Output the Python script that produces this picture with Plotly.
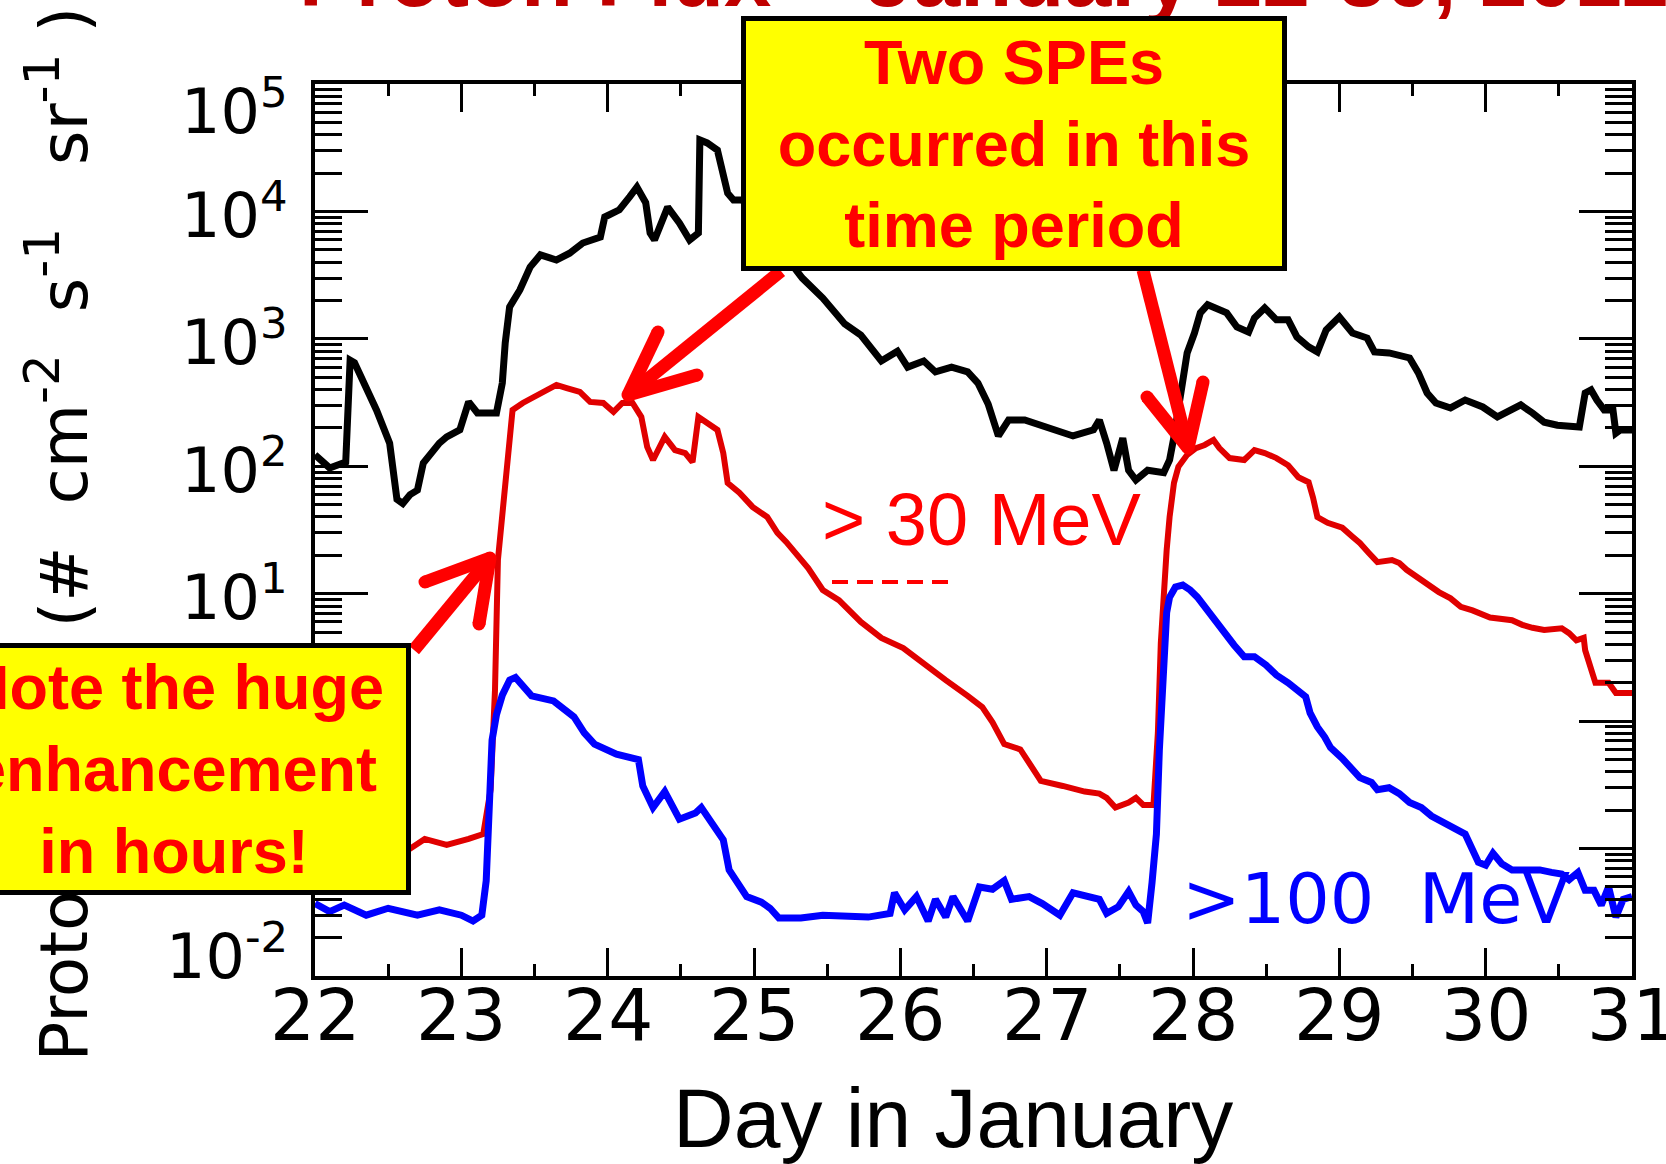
import math
import plotly.graph_objects as go

# ---- data: proton flux (# cm^-2 s^-1 sr^-1) vs day in January ----
black_day = [22.00, 22.10, 22.21, 22.24, 22.27, 22.32, 22.42, 22.51, 22.56, 22.60, 22.65, 22.70, 22.74, 22.85, 22.90,
             22.99, 23.05, 23.11, 23.24, 23.28, 23.30, 23.33, 23.40, 23.47, 23.54, 23.65, 23.74, 23.83, 23.95, 23.98,
             24.08, 24.15, 24.20, 24.26, 24.29, 24.32, 24.41, 24.49, 24.56, 24.62, 24.63, 24.68, 24.75, 24.82, 24.86,
             24.92, 25.11, 25.33, 25.47, 25.62, 25.73, 25.87, 25.98, 26.05, 26.16, 26.24, 26.35, 26.46, 26.53, 26.60,
             26.67, 26.74, 26.85, 27.04, 27.18, 27.32, 27.36, 27.41, 27.46, 27.52, 27.56, 27.61, 27.69, 27.80, 27.84,
             27.87, 27.92, 27.96, 28.01, 28.05, 28.10, 28.23, 28.30, 28.38, 28.42, 28.49, 28.57, 28.65, 28.71, 28.79,
             28.85, 28.91, 29.00, 29.09, 29.19, 29.24, 29.34, 29.48, 29.54, 29.60, 29.66, 29.76, 29.86, 29.98, 30.08,
             30.18, 30.24, 30.32, 30.40, 30.49, 30.64, 30.68, 30.72, 30.76, 30.81, 30.87, 30.89, 30.92, 31.00]
black_flux = [123, 97, 108, 680, 650, 490, 277, 152, 55, 51, 60, 65, 106, 152, 170,
              193, 320, 262, 262, 450, 930, 1780, 2420, 3660, 4560, 4160, 4700, 5650, 6300, 9040,
              10300, 13000, 15500, 11700, 6770, 5970, 10800, 8110, 5970, 6770, 36400, 34500, 30300, 13900, 12300,
              12300, 6530, 3000, 2090, 1310, 1070, 670, 800, 600, 670, 550, 600, 550, 450, 308,
              173, 231, 231, 193, 173, 193, 231, 152, 93, 166, 93, 78, 93, 89, 112,
              170, 376, 775, 1110, 1600, 1850, 1600, 1240, 1130, 1460, 1750, 1410, 1410, 1035, 865,
              790, 1175, 1485, 1110, 1015, 790, 775, 708, 540, 376, 314, 287, 331, 292, 244,
              277, 303, 262, 222, 210, 203, 376, 397, 331, 277, 277, 182, 193, 193]

red_day = [22.00, 22.30, 22.60, 22.64, 22.75, 22.90, 23.05, 23.15, 23.20, 23.23, 23.25, 23.28, 23.31, 23.33, 23.35,
           23.42, 23.49, 23.59, 23.65, 23.72, 23.81, 23.88, 23.97, 24.04, 24.10, 24.17, 24.23, 24.27, 24.31, 24.39,
           24.46, 24.53, 24.58, 24.62, 24.68, 24.75, 24.79, 24.82, 24.90, 24.99, 25.09, 25.16, 25.22, 25.37, 25.47,
           25.58, 25.73, 25.87, 26.02, 26.16, 26.31, 26.46, 26.56, 26.63, 26.71, 26.82, 26.89, 26.96, 27.11, 27.26,
           27.36, 27.41, 27.47, 27.56, 27.61, 27.66, 27.73, 27.76, 27.78, 27.80, 27.82, 27.84, 27.87, 27.90, 27.96,
           28.02, 28.08, 28.14, 28.18, 28.25, 28.35, 28.42, 28.49, 28.57, 28.65, 28.72, 28.79, 28.82, 28.85, 28.92,
           29.02, 29.09, 29.14, 29.20, 29.26, 29.36, 29.41, 29.46, 29.54, 29.61, 29.68, 29.76, 29.83, 29.91, 29.98,
           30.03, 30.18, 30.25, 30.32, 30.40, 30.52, 30.57, 30.62, 30.67, 30.68, 30.70, 30.72, 30.75, 30.84, 30.89,
           31.00]
red_flux = [0.098, 0.107, 0.094, 0.098, 0.119, 0.107, 0.119, 0.130, 0.29, 1.75, 18.4, 43, 93, 203, 277,
            314, 350, 397, 435, 411, 383, 320, 314, 267, 314, 314, 244, 142, 112, 170,
            134, 127, 108, 244, 219, 193, 127, 74, 62, 48, 40, 30, 25.5, 15.9, 10.7,
            8.9, 6.0, 4.5, 3.75, 2.8, 2.1, 1.58, 1.29, 0.98, 0.66, 0.60, 0.45, 0.34, 0.31, 0.28,
            0.27, 0.25, 0.21, 0.23, 0.25, 0.22, 0.22, 0.81, 4.1, 11.3, 22, 40, 74, 99, 123,
            139, 147, 161, 139, 116, 112, 134, 127, 116, 102, 82, 75, 57, 40, 36,
            33, 28, 25, 21, 17.7, 18.4, 17.4, 15.4, 13.3, 11.7, 10.3, 9.2, 7.9, 7.4, 6.8,
            6.5, 6.2, 5.7, 5.4, 5.2, 5.35, 4.9, 4.3, 4.5, 3.6, 3.0, 2.4, 2.0, 2.0, 1.66,
            1.66]

blue_day = [22.00, 22.10, 22.20, 22.35, 22.50, 22.70, 22.85, 23.00, 23.08, 23.14, 23.17, 23.19, 23.21, 23.24, 23.28,
            23.33, 23.37, 23.48, 23.63, 23.77, 23.84, 23.91, 24.06, 24.21, 24.24, 24.31, 24.39, 24.49, 24.60, 24.64,
            24.71, 24.79, 24.83, 24.89, 24.95, 25.05, 25.11, 25.17, 25.32, 25.47, 25.78, 25.93, 25.96, 26.03, 26.11,
            26.19, 26.24, 26.31, 26.36, 26.46, 26.54, 26.63, 26.71, 26.76, 26.88, 26.97, 27.09, 27.18, 27.30, 27.36,
            27.41, 27.49, 27.56, 27.61, 27.66, 27.69, 27.72, 27.75, 27.77, 27.80, 27.82, 27.84, 27.88, 27.93, 27.98,
            28.03, 28.08, 28.13, 28.21, 28.28, 28.35, 28.42, 28.50, 28.57, 28.65, 28.72, 28.77, 28.80, 28.85, 28.90,
            28.94, 29.02, 29.09, 29.14, 29.22, 29.26, 29.34, 29.41, 29.48, 29.56, 29.63, 29.71, 29.78, 29.86, 29.91,
            29.95, 30.00, 30.05, 30.11, 30.18, 30.25, 30.37, 30.45, 30.52, 30.57, 30.63, 30.68, 30.74, 30.79, 30.84,
            30.89, 30.94, 31.00]
blue_flux = [0.037, 0.032, 0.036, 0.030, 0.034, 0.030, 0.033, 0.030, 0.027, 0.030, 0.056, 0.24, 0.71, 1.12, 1.6,
             2.1, 2.2, 1.58, 1.44, 1.08, 0.81, 0.66, 0.55, 0.50, 0.31, 0.21, 0.28, 0.17, 0.19, 0.21,
             0.16, 0.117, 0.068, 0.054, 0.042, 0.038, 0.034, 0.0285, 0.0285, 0.030, 0.029, 0.031, 0.045, 0.033, 0.042,
             0.027, 0.040, 0.029, 0.042, 0.027, 0.050, 0.048, 0.056, 0.040, 0.042, 0.037, 0.030, 0.045, 0.041, 0.040,
             0.031, 0.035, 0.046, 0.036, 0.032, 0.026, 0.054, 0.13, 0.59, 3.6, 7.1, 9.4, 11.3, 11.7, 10.7,
             9.4, 7.9, 6.5, 5.0, 3.96, 3.2, 3.2, 2.75, 2.3, 2.0, 1.75, 1.55, 1.16, 0.90, 0.75,
             0.62, 0.51, 0.41, 0.36, 0.33, 0.29, 0.30, 0.27, 0.23, 0.21, 0.18, 0.16, 0.145, 0.13, 0.098,
             0.078, 0.074, 0.092, 0.076, 0.068, 0.068, 0.068, 0.065, 0.063, 0.057, 0.065, 0.047, 0.047, 0.036, 0.050,
             0.029, 0.040, 0.042]

day_ticks = list(range(22, 32))
day_tick_text = [str(d) for d in day_ticks]
decade_vals = [1e-2, 1e-1, 1e0, 1e1, 1e2, 1e3, 1e4, 1e5]
decade_text = ["10<sup>-2</sup>", "10<sup>-1</sup>", "10<sup>0</sup>", "10<sup>1</sup>",
               "10<sup>2</sup>", "10<sup>3</sup>", "10<sup>4</sup>", "10<sup>5</sup>"]

# ---- page geometry ----
W, H = 1666, 1164
ML, MR, MT, MB = 315, 34, 84, 188
PW, PH = W - ML - MR, H - MT - MB

def fx(px):
    return (px - ML) / PW

def fy(py):
    return (H - MB - py) / PH

RED = "#FF0000"
ROOT_FONT = "DejaVu Sans"
SANS = "Liberation Sans, Arial"

fig = go.Figure()
fig.add_trace(go.Scatter(x=black_day, y=black_flux, mode="lines",
                         line=dict(color="black", width=7), showlegend=False))
fig.add_trace(go.Scatter(x=red_day, y=red_flux, mode="lines",
                         line=dict(color="#E00000", width=6), showlegend=False))
fig.add_trace(go.Scatter(x=blue_day, y=blue_flux, mode="lines",
                         line=dict(color="#0000FF", width=7), showlegend=False))

fig.update_layout(
    width=W, height=H,
    margin=dict(l=ML, r=MR, t=MT, b=MB, autoexpand=False),
    paper_bgcolor="white", plot_bgcolor="white",
    showlegend=False,
    xaxis=dict(
        range=[22, 31], tickvals=day_ticks, showticklabels=False,
        ticks="inside", ticklen=28, tickwidth=3, tickcolor="black",
        showline=True, linewidth=4, linecolor="black", mirror="allticks",
        showgrid=False, zeroline=False,
        minor=dict(dtick=0.5, ticks="inside", ticklen=12, tickwidth=3, tickcolor="black", showgrid=False),
    ),
    yaxis=dict(
        type="log", range=[-2, 5], dtick=1,
        ticks="inside", ticklen=53, tickwidth=3, tickcolor="black",
        showline=True, linewidth=4, linecolor="black", mirror="allticks",
        showgrid=False, zeroline=False, showticklabels=False,
        minor=dict(dtick="D1", ticks="inside", ticklen=27, tickwidth=3, tickcolor="black", showgrid=False),
    ),
)

ann = []
# day labels under the axis (the last one runs off the page edge)
for d, t in zip(day_ticks, day_tick_text):
    ann.append(dict(text=t, xref="x", x=d, xanchor="center",
                    yref="paper", y=fy(1016), yanchor="middle",
                    showarrow=False, font=dict(family=ROOT_FONT, size=71, color="black")))

# decade labels on the log axis, the two edge labels pulled inward
for v, t in zip(decade_vals, decade_text):
    shift = 0
    if v == decade_vals[0]:
        shift = 24
    elif v == decade_vals[-1]:
        shift = -23
    ann.append(dict(text=t, xref="paper", x=fx(290), xanchor="right",
                    yref="y", y=math.log10(v), yanchor="middle", yshift=shift,
                    showarrow=False, font=dict(family=ROOT_FONT, size=62, color="black")))

# axis titles
SUP = "<sup><span style='font-size:50px'>{}</span></sup>"
ytitle = ("Proton  Flux  (#  cm" + SUP.format("-2") + "  s" + SUP.format("-1") +
          "   sr" + SUP.format("-1") + " )")
ann.append(dict(text=ytitle,
                textangle=-90, xref="paper", x=fx(58), xanchor="center",
                yref="paper", y=fy(1064), yanchor="bottom", showarrow=False,
                font=dict(family=ROOT_FONT, size=66, color="black")))
ann.append(dict(text="Day in January", xref="paper", x=fx(953), xanchor="center",
                yref="paper", y=fy(1118), yanchor="middle", showarrow=False,
                font=dict(family=SANS, size=84, color="black")))

# curve labels
ann.append(dict(text="> 30 MeV", xref="paper", x=fx(981), xanchor="center",
                yref="paper", y=fy(519), yanchor="middle", showarrow=False,
                font=dict(family=SANS, size=74, color=RED)))
ann.append(dict(text=">100  MeV", xref="paper", x=fx(1180), xanchor="left",
                yref="paper", y=fy(899), yanchor="middle", showarrow=False,
                font=dict(family=ROOT_FONT, size=70, color="#0000FF")))

# page title, mostly above the page edge
ann.append(dict(text="<b>Proton Flux – January 22-30, 2012</b>", xref="paper", x=fx(297), xanchor="left",
                yref="paper", y=fy(26), yanchor="bottom", showarrow=False,
                font=dict(family=SANS, size=85, color="#C00000")))

# yellow call-out boxes
ann.append(dict(text="<b>Two SPEs<br>occurred in this<br>time period</b>",
                xref="paper", x=fx(1014), xanchor="center",
                yref="paper", y=fy(144), yanchor="middle",
                width=536, height=245, align="center", valign="middle",
                bgcolor="#FFFF00", bordercolor="black", borderwidth=5, borderpad=0,
                showarrow=False, font=dict(family=SANS, size=63, color=RED)))
ann.append(dict(text="<b>Note the huge<br>enhancement<br>in hours!</b>",
                xref="paper", x=fx(174), xanchor="center",
                yref="paper", y=fy(769), yanchor="middle",
                width=464, height=242, align="center", valign="middle",
                bgcolor="#FFFF00", bordercolor="black", borderwidth=5, borderpad=0,
                showarrow=False, font=dict(family=SANS, size=63, color=RED)))
fig.update_layout(annotations=ann)

# thick red pointer arrows with open heads
arrows = [
    ((781, 271), (628, 395), [(658, 332), (697, 375)]),
    ((1143, 270), (1188, 448), [(1147, 397), (1203, 382)]),
    ((414, 650), (490, 558), [(425, 582), (479, 624)]),
]
AW = 13
shapes = []
for tail, tip, wings in arrows:
    for p in [tail] + wings:
        shapes.append(dict(type="line", xref="paper", yref="paper",
                           x0=fx(p[0]), y0=fy(p[1]), x1=fx(tip[0]), y1=fy(tip[1]),
                           line=dict(color=RED, width=AW), layer="above"))
    for p in [tip] + wings:
        r = AW / 2
        shapes.append(dict(type="circle", xref="paper", yref="paper",
                           x0=fx(p[0] - r), x1=fx(p[0] + r), y0=fy(p[1] + r), y1=fy(p[1] - r),
                           fillcolor=RED, line=dict(width=0), layer="above"))

# faint red dash fragments just below the >30 MeV label
shapes.append(dict(type="line", xref="paper", yref="paper",
                   x0=fx(832), y0=fy(582), x1=fx(953), y1=fy(582),
                   line=dict(color=RED, width=4, dash="16px,9px"), layer="above"))
fig.update_layout(shapes=shapes)

fig.write_html("out.html")
